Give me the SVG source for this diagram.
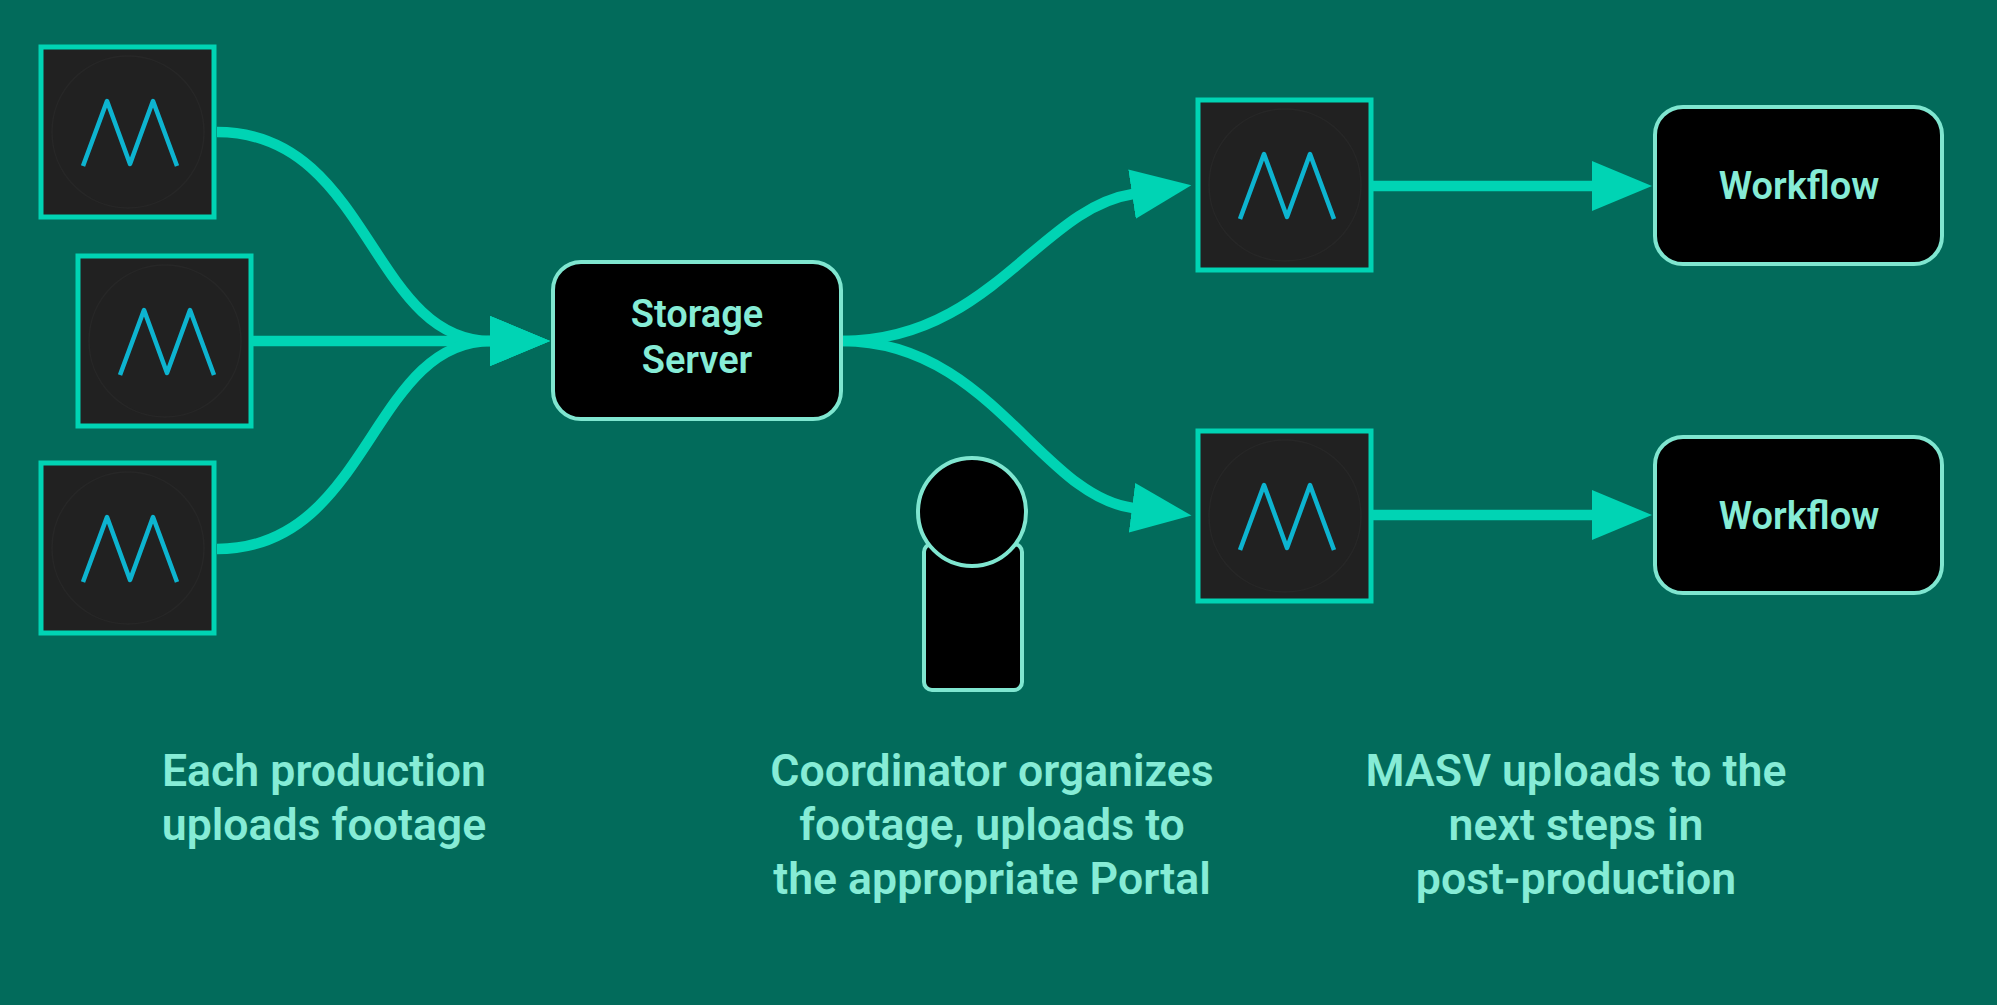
<svg xmlns="http://www.w3.org/2000/svg" width="2000" height="1008" viewBox="0 0 2000 1008">
<style>
.box{fill:#212121;stroke:#00d4b4;stroke-width:5}
.ring{fill:none;stroke:#272727;stroke-width:1.5}
.m{fill:none;stroke:#0db4d0;stroke-width:4.5;stroke-linejoin:round}
.proc{fill:#000;stroke:#7fe6d0;stroke-width:4}
.link{fill:none;stroke:#00d4b4;stroke-width:10.5;marker-end:url(#arrow)}
text{font-family:Roboto,"Liberation Sans",sans-serif;font-weight:600;fill:#86ecd6;text-anchor:middle}
.n{font-size:38px}
.c{font-size:44.6px}
</style>
<defs>
<marker id="arrow" markerUnits="userSpaceOnUse" markerWidth="62" markerHeight="50" refX="1" refY="25" orient="auto">
<path d="M0,0L60,25L0,50Z" fill="#00d4b4"/>
</marker>
<g id="logo">
<rect class="box" x="0" y="0" width="173" height="170"/>
<circle class="ring" cx="87" cy="85" r="76"/>
<path class="m" d="M42,119L66,54L89,117L112,54L136,119"/>
</g>
</defs>
<rect id="background" width="1997" height="1005" fill="#026b5b"/>
<g id="connectors">
<path class="link" d="M217,132C370,132 370,341 491,341"/>
<path class="link" d="M253,341L491,341"/>
<path class="link" d="M217,549C370,549 370,341 491,341"/>
<path class="link" d="M842,341C990,341 1040,208 1133,194"/>
<path class="link" d="M842,341C990,341 1040,496 1133,508"/>
<path class="link" d="M1373,186L1593,186"/>
<path class="link" d="M1373,515L1593,515"/>
</g>
<g id="source1"><use href="#logo" x="41" y="47"/></g>
<g id="source2"><use href="#logo" x="78" y="256"/></g>
<g id="source3"><use href="#logo" x="41" y="463"/></g>
<g id="storage"><rect class="proc" x="553" y="262" width="288" height="157" rx="28"/><text class="n" x="697" y="327">Storage</text><text class="n" x="697" y="373">Server</text></g>
<g id="portal1"><use href="#logo" x="1198" y="100"/></g>
<g id="portal2"><use href="#logo" x="1198" y="431"/></g>
<g id="workflow1"><rect class="proc" x="1655" y="107" width="287" height="157" rx="28"/><text class="n" x="1799" y="199">Workflow</text></g>
<g id="workflow2"><rect class="proc" x="1655" y="437" width="287" height="156" rx="28"/><text class="n" x="1799" y="529">Workflow</text></g>
<g id="coordinator"><rect class="proc" x="924" y="544" width="98" height="146" rx="8"/><circle class="proc" cx="972" cy="512" r="54"/></g>
<g id="captions">
<text class="c" x="324" y="786">Each production</text>
<text class="c" x="324" y="840">uploads footage</text>
<text class="c" x="992" y="786">Coordinator organizes</text>
<text class="c" x="992" y="840">footage, uploads to</text>
<text class="c" x="992" y="894">the appropriate Portal</text>
<text class="c" x="1576" y="786">MASV uploads to the</text>
<text class="c" x="1576" y="840">next steps in</text>
<text class="c" x="1576" y="894">post-production</text>
</g>
</svg>
